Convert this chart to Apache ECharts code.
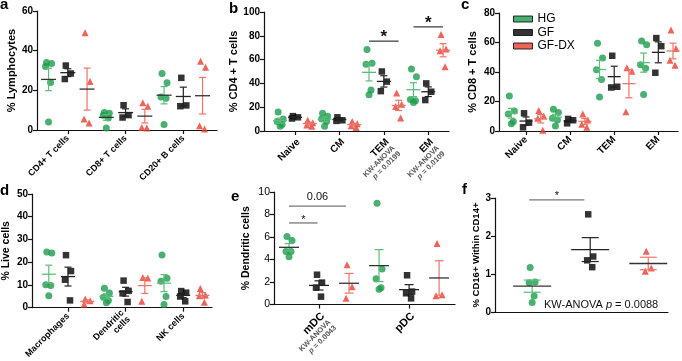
<!DOCTYPE html>
<html>
<head>
<meta charset="utf-8">
<script src="https://cdn.jsdelivr.net/npm/echarts@6/dist/echarts.min.js"></script>
<style>html,body{margin:0;padding:0;background:#fff}#chart{width:682px;height:361px}</style>
</head>
<body>
<div id="chart"></div>
<script>
// a: % lymphocytes
var aCats = ['CD4+ T cells', 'CD8+ T cells', 'CD20+ B cells'];
var aHG = [[34, 33.5, 32, 24, 4], [8.8, 8.5, 7.5, 6, 1], [28.5, 23.8, 16.6, 16, 2.8]];
var aGF = [[32.5, 28.5, 25.7], [12.5, 7.5, 6.3], [26.3, 12.4, 12]];
var aDX = [[49, 24.5, 5.5, 3.5], [13.8, 12, 1.2, 1], [34.7, 31.7, 2.2, 0.5]];

// b: % CD4+ T cells
var bCats = ['Naive', 'CM', 'TEM', 'EM'];
var bP = ['', '', '0.0199', '0.0109'];
var bHG = [[16, 10, 8, 5.5, 4], [15, 12.5, 10, 8, 4], [68.5, 57, 56, 34.5, 30.5], [52, 45.5, 26.5, 25.5, 24]];
var bGF = [[12.5, 11.5, 10.5], [11.5, 9, 8.5], [50, 41.5, 33.5], [40, 33, 26]];
var bDX = [[9, 7, 5, 4], [8, 6, 4.5, 3], [32, 22.5, 20.5, 11], [81, 69, 67.5, 54]];
var bSig = [[6, 8, 75.5, '*'], [9, 11, 87.5, '*']];

// c: % CD8+ T cells
var cCats = ['Naive', 'CM', 'TEM', 'EM'];
var cHG = [[23.7, 13.5, 11.5, 6.5, 5], [14.8, 12.5, 8.6, 7.5, 3.4], [59.5, 49.5, 41.5, 35, 23], [61, 58.5, 45, 42.5, 24.8]];
var cGF = [[12, 5.7, 2.5], [8.2, 7.3, 5.2], [51, 30, 29.5], [63, 57.5, 39.5]];
var cDX = [[13.9, 10.2, 8.6, 0.5], [11.6, 7.5, 4.5, 2.5], [42.8, 40.5, 13], [68.5, 56, 48, 44.5]];

// d: % live cells
var dCats = ['Macrophages', 'Dendritic\ncells', 'NK cells'];
var dHG = [[24.5, 24, 10.1, 9.8, 5.2], [8.5, 6.4, 4.6, 3.2, 2.2], [23.2, 12.9, 11.6, 4.9, 1.4]];
var dGF = [[23.1, 16.1, 12.3, 3.2], [11.9, 7.4, 6.3, 2.5], [7.3, 6.6, 4.9, 2.8]];
var dDX = [[3.8, 3, 1.5], [13.3, 13, 2.8], [8.4, 5.6, 5.2, 2.4]];

// e: % dendritic cells
var eCats = ['mDC', 'pDC'];
var eP = ['0.0043', ''];
var eHG = [[6.04, 5.7, 4.72, 4.72, 4.24], [9, 3.15, 2.3, 1.49, 1.35]];
var eGF = [[2.65, 1.95, 1.5, 0.7], [2.6, 1.15, 1.0, 0.55]];
var eDX = [[3.54, 1.57, 0.56], [5.42, 0.87, 0.79]];
var eSig = [[0, 1.9, 8.75, '0.06'], [0, 0.95, 7.25, '*']];

// f: % CD16+ within CD14+
var fHG = [[1.17, 0.79, 0.77, 0.42, 0.25]];
var fGF = [[2.57, 1.46, 1.36, 1.18]];
var fDX = [[1.6, 1.16, 1.07]];
var fSig = [[-0.05, 0.9, 2.95, '*']];

var FONT = 'Liberation Sans, Arial, sans-serif';
var KEYS = ['HG', 'GF', 'DX'];
var NAMES = {HG: 'HG', GF: 'GF', DX: 'GF-DX'};
var COL = {HG: '#1c9c4c', GF: '#000000', DX: '#e83d2f'};
var BAR = {HG: '#5bbd7a', GF: '#222222', DX: '#ee7468'};
var SYM = {HG: 'circle', GF: 'rect', DX: 'triangle'};
var SIZE = {HG: 7, GF: 6.5, DX: 7};
var JIT = [-2, 3, -3, 2, 0];

function richLabel(cats, ps) {
  return function (v) {
    var k = Math.round((v - 1) / 3);
    var s = '{b|' + cats[k] + '}';
    if (ps[k]) s += '\n{s|KW-ANOVA}\n{i|p}{s| = ' + ps[k] + '}';
    return s;
  };
}
function plainLabel(cats) {
  return function (v) { return cats[Math.round((v - 1) / 3)]; };
}

var panels = [
  {cats: aCats, data: {HG: aHG, GF: aGF, DX: aDX}, grid: {left: 37, top: 11, width: 180, height: 119},
   x: [-0.6, 8.75], yMax: 60, yStep: 20, yName: '% Lymphocytes', nameSize: 11, nameGap: 20,
   tickBold: true, labelSize: 9, fmt: plainLabel(aCats), meanDark: true, mw: 7.5, cw: 3.5},
  {cats: bCats, data: {HG: bHG, GF: bGF, DX: bDX}, grid: {left: 264, top: 12, width: 185, height: 119},
   x: [-1.09, 11.4], yMax: 100, yStep: 20, yName: '% CD4 + T cells', nameSize: 11, nameGap: 19,
   tickBold: true, labelSize: 10, fmt: richLabel(bCats, bP), rich: true, vTop: true, mw: 7, cw: 3.5,
   sig: bSig, sigStyle: {line: '#444', size: 17, bold: true, dy: -4}},
  {cats: cCats, data: {HG: cHG, GF: cGF, DX: cDX}, grid: {left: 499, top: 13, width: 179, height: 118},
   x: [-0.84, 11.34], yMax: 80, yStep: 20, yName: '% CD8 + T cells', nameSize: 11, nameGap: 21,
   tickBold: true, labelSize: 10, fmt: plainLabel(cCats), mw: 6.5, cw: 3.5},
  {cats: dCats, data: {HG: dHG, GF: dGF, DX: dDX}, grid: {left: 32, top: 194, width: 180, height: 119},
   x: [-0.875, 8.5], yMax: 50, yStep: 10, yName: '% Live cells', nameSize: 10.5, nameGap: 20,
   tickBold: true, labelSize: 9, fmt: plainLabel(dCats), mw: 7, cw: 3.5},
  {cats: eCats, data: {HG: eHG, GF: eGF, DX: eDX}, grid: {left: 274, top: 192, width: 181, height: 119},
   x: [-0.5, 5.53], yMax: 10, yStep: 2, yName: '% Dendritic cells', nameSize: 10.5, nameGap: 22,
   tickBold: false, labelSize: 11, fmt: richLabel(eCats, eP), rich: true, vTop: true, meanDark: true, mw: 10, cw: 4.5,
   sig: eSig, sigStyle: {line: '#777', size: 11, bold: false, dy: -9, starDy: -3}},
  {cats: [''], data: {HG: fHG, GF: fGF, DX: fDX}, grid: {left: 495, top: 198, width: 173, height: 114},
   x: [-0.64, 2.34], yMax: 3, yStep: 1, yName: '% CD16+ Within CD14+', nameSize: 9.5, nameGap: 12,
   tickBold: true, noX: true, meanDark: true, mw: 19, cw: 8.5,
   sig: fSig, sigStyle: {line: '#777', size: 11, bold: false, dy: -4}}
];

function mean(a) { var s = 0; a.forEach(function (v) { s += v; }); return s / a.length; }
function sem(a) {
  var m = mean(a), s = 0;
  a.forEach(function (v) { s += (v - m) * (v - m); });
  return Math.sqrt(s / (a.length - 1)) / Math.sqrt(a.length);
}

function barRender(color, meanColor, mw, cw) {
  return function (params, api) {
    var x = api.value(0), m = api.value(1), s = api.value(2);
    var c = api.coord([x, m]);
    var u = api.coord([x, m + s]);
    var l = api.coord([x, Math.max(m - s, 0)]);
    var st = {stroke: color, lineWidth: 1.2};
    return {type: 'group', children: [
      {type: 'line', shape: {x1: c[0], y1: u[1], x2: c[0], y2: l[1]}, style: st},
      {type: 'line', shape: {x1: c[0] - cw, y1: u[1], x2: c[0] + cw, y2: u[1]}, style: st},
      {type: 'line', shape: {x1: c[0] - cw, y1: l[1], x2: c[0] + cw, y2: l[1]}, style: st},
      {type: 'line', shape: {x1: c[0] - mw, y1: c[1], x2: c[0] + mw, y2: c[1]}, style: {stroke: meanColor, lineWidth: 1.3}}
    ]};
  };
}

function sigRender(list, st) {
  return function (params, api) {
    var d = list[params.dataIndex];
    var p1 = api.coord([d[0], d[2]]), p2 = api.coord([d[1], d[2]]);
    var star = d[3] === '*';
    var dy = star && st.starDy !== undefined ? st.starDy : st.dy;
    return {type: 'group', children: [
      {type: 'line', shape: {x1: p1[0], y1: p1[1], x2: p2[0], y2: p2[1]}, style: {stroke: st.line, lineWidth: 1.3}},
      {type: 'text', x: (p1[0] + p2[0]) / 2, y: p1[1] + dy,
       style: {text: d[3], fontSize: st.size, fontWeight: st.bold ? 'bold' : 'normal', fontFamily: FONT,
               fill: '#111', align: 'center', verticalAlign: 'middle'}}
    ]};
  };
}

var option = {
  animation: false,
  backgroundColor: '#fff',
  textStyle: {fontFamily: FONT},
  title: [
    {text: 'a', left: 0, top: -3},
    {text: 'b', left: 229, top: 1},
    {text: 'c', left: 461, top: -3},
    {text: 'd', left: 0, top: 183},
    {text: 'e', left: 231, top: 189},
    {text: 'f', left: 462, top: 182},
    {text: '{n|KW-ANOVA }{i|p}{n| = 0.0088}', left: 544, top: 299,
     textStyle: {fontWeight: 'normal', rich: {
       n: {fontSize: 11, fontWeight: 'normal', color: '#111', fontFamily: FONT},
       i: {fontSize: 11, fontWeight: 'normal', fontStyle: 'italic', color: '#111', fontFamily: FONT}}}}
  ].map(function (t, i) {
    t.padding = 0;
    if (i < 6) t.textStyle = {fontSize: 15, fontWeight: 'bold', color: '#000', fontFamily: FONT};
    return t;
  }),
  legend: {
    data: ['HG', 'GF', 'GF-DX'], orient: 'vertical', left: 513, top: 13, padding: 0,
    icon: 'rect', itemWidth: 19, itemHeight: 6, itemGap: 1.5,
    itemStyle: {borderColor: '#000', borderWidth: 1},
    textStyle: {fontSize: 12, color: '#000', fontFamily: FONT}
  },
  grid: [], xAxis: [], yAxis: [], series: []
};

panels.forEach(function (p, i) {
  var ticks = p.cats.map(function (c, g) { return g * 3 + 1; });
  option.grid.push(p.grid);
  option.xAxis.push({
    type: 'value', gridIndex: i, min: p.x[0], max: p.x[1],
    splitLine: {show: false},
    axisLine: {lineStyle: {color: '#111', width: 1.2}},
    axisTick: {show: !p.noX, customValues: ticks, length: 4, lineStyle: {color: '#111', width: 1.2}},
    axisLabel: {
      show: !p.noX, customValues: ticks, rotate: 45, margin: p.vTop ? 6 : 7,
      fontSize: p.labelSize, fontWeight: 'bold', color: '#000', fontFamily: FONT,
      verticalAlign: p.vTop ? 'top' : undefined,
      formatter: p.fmt,
      rich: p.rich ? {
        b: {fontSize: p.labelSize, fontWeight: 'bold', color: '#000', fontFamily: FONT},
        s: {fontSize: 7.5, color: '#555', fontFamily: FONT},
        i: {fontSize: 7.5, color: '#555', fontStyle: 'italic', fontFamily: FONT}
      } : undefined
    }
  });
  option.yAxis.push({
    type: 'value', gridIndex: i, min: 0, max: p.yMax, interval: p.yStep,
    name: p.yName, nameLocation: 'middle', nameGap: p.nameGap,
    nameTextStyle: {fontSize: p.nameSize, fontWeight: 'bold', color: '#000', fontFamily: FONT},
    splitLine: {show: false},
    axisLine: {show: true, onZero: false, lineStyle: {color: '#111', width: 1.2}},
    axisTick: {show: true, length: 4, lineStyle: {color: '#111', width: 1.2}},
    axisLabel: {fontSize: p.tickBold ? 10 : 10.5, fontWeight: p.tickBold ? 'bold' : 'normal', color: '#000', margin: 4, fontFamily: FONT}
  });

  KEYS.forEach(function (key, sub) {
    var pts = [], bars = [];
    p.data[key].forEach(function (vals, g) {
      var slot = g * 3 + sub;
      vals.forEach(function (v, k) {
        pts.push({value: [slot, v], symbolOffset: [JIT[k % JIT.length], 0]});
      });
      bars.push([slot, mean(vals), sem(vals)]);
    });
    option.series.push({
      type: 'scatter', name: NAMES[key], xAxisIndex: i, yAxisIndex: i,
      symbol: SYM[key], symbolSize: SIZE[key], itemStyle: {color: COL[key]}, z: 2,
      data: pts
    });
    var mc = (p.meanDark && key !== 'GF') ? '#333' : BAR[key];
    option.series.push({
      type: 'custom', xAxisIndex: i, yAxisIndex: i, z: 3,
      renderItem: barRender(BAR[key], mc, p.mw, p.cw),
      data: bars
    });
  });

  if (p.sig) {
    option.series.push({
      type: 'custom', xAxisIndex: i, yAxisIndex: i, z: 4,
      renderItem: sigRender(p.sig, p.sigStyle),
      data: p.sig.map(function (d) { return [d[0], d[2]]; })
    });
  }
});

var chart = echarts.init(document.getElementById('chart'));
chart.setOption(option);
</script>
</body>
</html>
